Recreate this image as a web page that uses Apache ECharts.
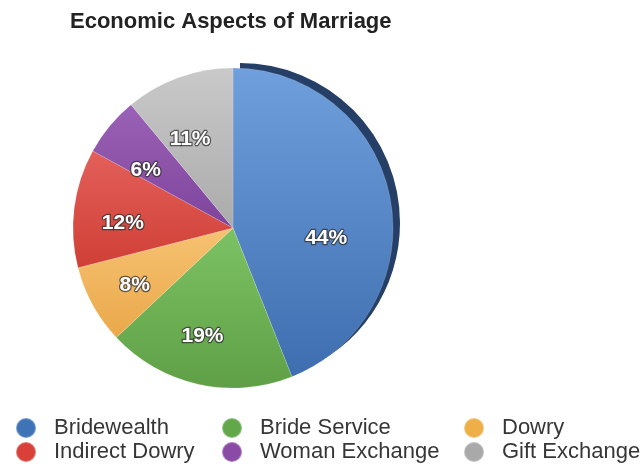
<!DOCTYPE html>
<html><head><meta charset="utf-8">
<script src="https://cdn.jsdelivr.net/npm/echarts@6/dist/echarts.min.js"></script>
<style>html,body{margin:0;padding:0;background:#fff}#c{width:641px;height:464px}</style>
</head><body><div id="c"></div>
<script>
const categories = ['Bridewealth','Bride Service','Dowry','Indirect Dowry','Woman Exchange','Gift Exchange'];
const values = [44, 19, 8, 12, 6, 11];
const topColors = ['#6f9fdc','#7cc264','#f6c272','#e3605a','#9a62b6','#c9c9c9'];
const baseColors = ['#3f6eb0','#5fa046','#eaa84a','#cf3f36','#7e449c','#ababab'];
const legendColors = ['#3f73b8','#62a84b','#eeae48','#d9403a','#8a4ba6','#a9a9a9'];

const FONT = 'Liberation Sans, Arial, sans-serif';
const grad = (i) => ({type:'linear',x:0,y:0,x2:0,y2:1,colorStops:[{offset:0,color:topColors[i]},{offset:1,color:baseColors[i]}]});
const chart = echarts.init(document.getElementById('c'));
const center = [233, 228];
const radius = 160;

// legend layout: column x (icon left) and row y (top)
const colLeft = [15, 221, 463];
const rowTop = [417, 441];
const legendOrder = [[0,3],[1,4],[2,5]];
const legends = [];
legendOrder.forEach((col, ci) => col.forEach((idx, ri) => {
  legends.push({data:[{name:categories[idx],itemStyle:{color:legendColors[idx]}}],left:colLeft[ci],top:rowTop[ri],padding:0,
    itemWidth:20,itemHeight:20,icon:'circle',selectedMode:false,
    textStyle:{fontFamily:FONT,fontSize:22,color:'#363636',padding:[0,0,0,13]}});
}));

chart.setOption({
  animation:false,
  title:{text:'Economic Aspects of Marriage',left:70,top:11,padding:0,textStyle:{fontFamily:FONT,fontWeight:'bold',fontSize:22,color:'#222'}},
  legend:legends,
  series:[
    {type:'pie',silent:true,center:[center[0]+7,center[1]-5],radius:radius,startAngle:90,clockwise:true,label:{show:false},labelLine:{show:false},z:1,
     data:[{name:'_edge',value:values[0],itemStyle:{color:'#263f66'}},{name:'_rest',value:values.slice(1).reduce((a,b)=>a+b,0),itemStyle:{color:'rgba(0,0,0,0)'}}]},
    {type:'pie',center:center,radius:radius,startAngle:90,clockwise:true,z:2,
     itemStyle:{borderColor:'rgba(255,255,255,0.3)',borderWidth:0.5},
     label:{show:false},labelLine:{show:false},
     data:categories.map((n,i)=>({name:n,value:values[i],itemStyle:{color:grad(i)}}))},
    {type:'pie',silent:true,center:[225,236],radius:200,startAngle:90,clockwise:true,z:3,
     itemStyle:{color:'rgba(0,0,0,0)'},
     label:{show:true,position:'inside',formatter:'{c}%',color:'#fff',fontFamily:FONT,fontWeight:'bold',fontSize:21,textBorderColor:'rgba(50,50,50,0.75)',textBorderWidth:2.5},
     labelLine:{show:false},
     data:categories.map((n,i)=>({name:'lbl_'+n,value:values[i],label:i===0?{offset:[0,22]}:undefined}))}
  ]
});
</script></body></html>
